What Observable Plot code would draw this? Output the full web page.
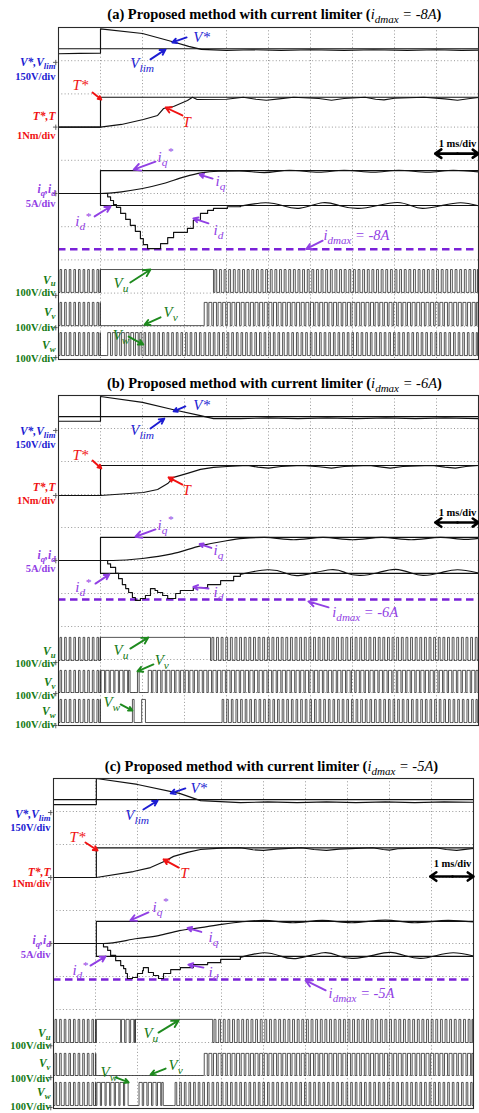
<!DOCTYPE html>
<html>
<head>
<meta charset="utf-8">
<script src="https://cdn.jsdelivr.net/npm/d3@7"></script>
<script src="https://cdn.jsdelivr.net/npm/@observablehq/plot@0.6"></script>
<style>
  html, body { margin: 0; padding: 0; background: #fff; }
  body { width: 479px; height: 1113px; position: relative; overflow: hidden; }
  .panel { position: absolute; left: 0; }
  .panel svg { overflow: visible; display: block; }
</style>
</head>
<body>
<div id="root"></div>
<script>
// ================= DATA (scope divisions: x = time in ms, 1 ms/div; y = 0..10 div) =================
const GRID = [1, 2, 3, 4, 5, 6, 7, 8, 9];
const PWM_PERIOD = 0.11; // ms, carrier period of the inverter switching

// ---------- Panel (a) : idmax = -8A ----------
const a_Vlim = [[0, 9.36], [10, 9.36]];
const a_Vstar = [[0, 9.21], [0.5, 9.22], [1.0, 9.23], [1.0, 9.96], [2.0, 9.82], [2.7, 9.58], [3.1, 9.43], [3.4, 9.34], [4.0, 9.31], [4.6, 9.33], [5.3, 9.31], [6.0, 9.33], [6.8, 9.31], [7.5, 9.33], [8.3, 9.31], [9.0, 9.33], [9.6, 9.31], [10, 9.32]];
const a_Tstar = [[0, 7.0], [1.0, 7.0], [1.0, 7.9], [10, 7.9]];
const a_T = [[0, 7.0], [1.0, 7.0], [1.5, 7.08], [2.02, 7.23], [2.36, 7.35], [2.5, 7.56], [2.74, 7.62], [3.07, 7.8], [3.19, 7.9], [3.3, 7.83], [4.0, 7.84], [4.4, 7.9], [4.7, 7.84], [4.95, 7.81], [5.25, 7.85], [5.6, 7.9], [6.2, 7.86], [6.5, 7.81], [6.8, 7.86], [7.3, 7.9], [7.55, 7.84], [7.75, 7.82], [8.0, 7.87], [8.7, 7.9], [9.2, 7.85], [9.5, 7.81], [9.8, 7.86], [10, 7.89]];
const a_IqStar = [[0, 5.0], [1.0, 5.0], [1.0, 5.69], [10, 5.69]];
const a_Iq = [[0, 5.0], [1.0, 5.0], [1.5, 5.05], [2.0, 5.15], [2.5, 5.3], [3.0, 5.5], [3.4, 5.62], [3.8, 5.67], [4.3, 5.68], [4.9, 5.63], [5.5, 5.7], [6.2, 5.64], [6.8, 5.7], [7.5, 5.64], [8.1, 5.7], [8.8, 5.64], [9.4, 5.7], [10, 5.65]];
const a_IdStar = [[0, 5.0], [1.0, 5.0], [1.0, 4.64], [10, 4.64]];
const a_IdStair = [[0, 5.0], [1.17, 4.9], [1.24, 4.79], [1.31, 4.67], [1.38, 4.58], [1.48, 4.4], [1.6, 4.22], [1.71, 4.04], [1.83, 3.86], [1.95, 3.64], [2.02, 3.46], [2.12, 3.34], [2.43, 3.49], [2.6, 3.67], [2.74, 3.83], [3.07, 3.95], [3.21, 4.19], [3.38, 4.4], [3.55, 4.49], [3.69, 4.55], [4.02, 4.6], [4.33, 4.62]];
const a_IdRipple = [[4.33, 4.62], [4.93, 4.72], [5.35, 4.63], [5.76, 4.56], [6.29, 4.72], [6.7, 4.63], [7.14, 4.55], [7.6, 4.64], [8.07, 4.73], [8.4, 4.63], [8.67, 4.55], [9.1, 4.63], [9.57, 4.72], [10, 4.63]];
const a_IdMax = [3.32];
const a_VuSeg = [[0, 1.0, "pwm", 0.35], [1.0, 3.69, "high"], [3.69, 10, "pwm", 0.4]];
const a_VvSeg = [[0, 1.0, "pwm", 0.35], [1.0, 3.45, "low"], [3.45, 10, "pwm", 0.65]];
const a_VwSeg = [[0, 1.0, "pwm", 0.35], [1.0, 1.15, "low"], [1.15, 2.0, "pwm", 0.6], [2.0, 10, "pwm", 0.35]];
const a_VuLev = [2.02, 2.71];
const a_VvLev = [1.02, 1.72];
const a_VwLev = [0.12, 0.81];
const a_Ground = [8.95, 7.0, 5.0, 1.93, 0.96, 0.06];

// ---------- Panel (b) : idmax = -6A ----------
const b_Vlim = [[0, 9.36], [10, 9.36]];
const b_Vstar = [[0, 9.22], [1.0, 9.22], [1.0, 9.97], [2.0, 9.79], [2.74, 9.57], [3.38, 9.39], [3.69, 9.3], [4.33, 9.3], [5.0, 9.32], [5.7, 9.3], [6.4, 9.32], [7.1, 9.3], [7.8, 9.32], [8.5, 9.3], [9.2, 9.32], [10, 9.3]];
const b_Tstar = [[0, 6.97], [1.0, 6.97], [1.0, 7.88], [10, 7.88]];
const b_T = [[0, 6.97], [1.0, 6.97], [2.02, 7.06], [2.36, 7.15], [2.6, 7.33], [2.74, 7.52], [3.07, 7.64], [3.38, 7.76], [3.69, 7.82], [4.02, 7.85], [4.5, 7.88], [4.75, 7.83], [5.0, 7.8], [5.3, 7.85], [5.8, 7.88], [6.2, 7.84], [6.5, 7.8], [6.8, 7.85], [7.4, 7.88], [7.7, 7.83], [7.9, 7.8], [8.2, 7.85], [8.9, 7.88], [9.2, 7.83], [9.45, 7.8], [9.7, 7.85], [10, 7.88]];
const b_IqStar = [[0, 5.0], [1.0, 5.0], [1.0, 5.7], [10, 5.7]];
const b_Iq = [[0, 5.0], [1.0, 5.0], [1.3, 5.0], [2.0, 5.06], [2.7, 5.2], [3.4, 5.45], [4.0, 5.6], [4.4, 5.67], [4.9, 5.7], [5.6, 5.63], [6.3, 5.7], [7.0, 5.63], [7.7, 5.7], [8.4, 5.63], [9.1, 5.7], [9.7, 5.64], [10, 5.67]];
const b_IdStar = [[0, 5.0], [1.0, 5.0], [1.0, 4.61], [10, 4.61]];
const b_IdStair = [[0, 5.0], [1.17, 4.9], [1.24, 4.79], [1.36, 4.61], [1.43, 4.45], [1.52, 4.27], [1.6, 4.15], [1.67, 4.03], [1.76, 3.88], [1.83, 3.79], [1.95, 3.85], [2.07, 3.94], [2.19, 4.15], [2.3, 4.09], [2.36, 4.03], [2.48, 3.94], [2.6, 3.85], [2.79, 4.0], [2.9, 4.09], [3.21, 4.18], [3.55, 4.27], [3.86, 4.39], [4.17, 4.52], [4.33, 4.58]];
const b_IdRipple = [[4.33, 4.58], [4.98, 4.72], [5.4, 4.62], [5.76, 4.55], [6.48, 4.72], [6.85, 4.62], [7.19, 4.55], [7.6, 4.63], [8.02, 4.73], [8.4, 4.62], [8.69, 4.55], [9.1, 4.63], [9.5, 4.72], [10, 4.62]];
const b_IdMax = [3.82];
const b_VuSeg = [[0, 1.0, "pwm", 0.35], [1.0, 3.62, "high"], [3.62, 10, "pwm", 0.4]];
const b_VvSeg = [[0, 1.0, "pwm", 0.35], [1.0, 1.71, "pwm", 0.75], [1.71, 1.88, "low"], [1.88, 1.92, "high"], [1.92, 2.12, "low"], [2.12, 10, "pwm", 0.7]];
const b_VwSeg = [[0, 1.0, "pwm", 0.35], [1.0, 1.76, "low"], [1.76, 1.8, "high"], [1.8, 1.98, "low"], [1.98, 2.07, "high"], [2.07, 3.86, "low"], [3.86, 10, "pwm", 0.35]];
const b_VuLev = [1.97, 2.67];
const b_VvLev = [1.0, 1.67];
const b_VwLev = [0.09, 0.79];
const b_Ground = [8.94, 6.97, 5.0, 1.91, 0.97, 0.0];

// ---------- Panel (c) : idmax = -5A ----------
const c_Vlim = [[0, 9.36], [10, 9.36]];
const c_Vstar = [[0, 9.21], [1.02, 9.21], [1.02, 10.0], [2.0, 9.82], [3.0, 9.55], [3.5, 9.33], [4.45, 9.27], [5.1, 9.29], [5.8, 9.27], [6.5, 9.29], [7.2, 9.27], [7.9, 9.29], [8.6, 9.27], [9.3, 9.29], [10, 9.28]];
const c_Tstar = [[0, 7.0], [1.02, 7.0], [1.02, 7.9], [10, 7.9]];
const c_T = [[0, 7.0], [1.02, 7.0], [1.9, 7.18], [2.31, 7.3], [2.62, 7.48], [2.86, 7.64], [3.19, 7.76], [3.5, 7.85], [3.98, 7.89], [4.45, 7.9], [4.75, 7.84], [5.0, 7.82], [5.3, 7.86], [5.9, 7.9], [6.2, 7.85], [6.5, 7.82], [6.8, 7.86], [7.6, 7.9], [7.85, 7.85], [8.0, 7.83], [8.2, 7.87], [9.1, 7.9], [9.35, 7.85], [9.6, 7.82], [9.85, 7.86], [10, 7.88]];
const c_IqStar = [[0, 5.0], [1.02, 5.0], [1.02, 5.67], [10, 5.67]];
const c_Iq = [[0, 5.0], [1.19, 5.0], [2.0, 5.15], [2.5, 5.24], [3.0, 5.39], [3.5, 5.48], [4.0, 5.58], [4.5, 5.66], [5.0, 5.7], [5.7, 5.63], [6.4, 5.7], [7.1, 5.63], [7.9, 5.71], [8.6, 5.63], [9.4, 5.7], [10, 5.65]];
const c_IdStar = [[0, 5.0], [1.02, 5.0], [1.02, 4.61], [10, 4.61]];
const c_IdStair = [[0, 5.0], [1.19, 4.9], [1.29, 4.79], [1.36, 4.64], [1.48, 4.48], [1.6, 4.33], [1.67, 4.24], [1.72, 4.09], [1.76, 3.94], [1.88, 3.97], [2.0, 4.09], [2.12, 4.18], [2.14, 4.27], [2.26, 4.12], [2.38, 4.03], [2.5, 3.94], [2.62, 4.09], [2.79, 4.21], [3.02, 4.27], [3.33, 4.36], [3.67, 4.42], [3.98, 4.52], [4.45, 4.58]];
const c_IdRipple = [[4.45, 4.58], [5.0, 4.72], [5.4, 4.62], [5.81, 4.55], [6.43, 4.72], [6.8, 4.62], [7.14, 4.55], [7.6, 4.64], [8.02, 4.73], [8.4, 4.62], [8.74, 4.55], [9.1, 4.63], [9.52, 4.72], [10, 4.62]];
const c_IdMax = [3.91];
const c_VuSeg = [[0, 1.02, "pwm", 0.35], [1.02, 1.6, "high"], [1.6, 1.95, "pwm", 0.7], [1.95, 3.79, "high"], [3.79, 10, "pwm", 0.4]];
const c_VvSeg = [[0, 1.02, "pwm", 0.35], [1.02, 3.57, "low"], [3.57, 10, "pwm", 0.65]];
const c_VwSeg = [[0, 1.02, "pwm", 0.35], [1.02, 1.79, "pwm", 0.75], [1.79, 2.02, "low"], [2.02, 2.62, "pwm", 0.7], [2.62, 2.86, "low"], [2.86, 10, "pwm", 0.35]];
const c_VuLev = [2.0, 2.7];
const c_VvLev = [1.0, 1.67];
const c_VwLev = [0.09, 0.79];
const c_Ground = [8.97, 7.0, 5.0, 1.9, 0.94, 0.03];

// ---------- Text ----------
const TITLES = [
  "(a) Proposed method with current limiter (~{i}!{dmax}~{ = -8A})",
  "(b) Proposed method with current limiter (~{i}!{dmax}~{ = -6A})",
  "(c) Proposed method with current limiter (~{i}!{dmax}~{ = -5A})"
];
const LEFT_LABELS = ["V*,V_{lim}", "150V/div", "T*,T", "1Nm/div", "i_{q},i_{d}", "5A/div", "V_{u}", "100V/div", "V_{v}", "100V/div", "V_{w}", "100V/div"];
const ANNOT_TEXT = ["V*", "V_{lim}", "T*", "T", "i_{q}^{*}", "i_{q}", "i_{d}^{*}", "i_{d}"];
const IDMAX_TEXT = ["i_{dmax} = -8A", "i_{dmax} = -6A", "i_{dmax} = -5A"];
const PHASE_TEXT = ["V_{u}", "V_{v}", "V_{w}"];
const SCALE_TEXT = "1 ms/div";

// ================= STYLE / LAYOUT =================
const FONT = '"Liberation Serif","Times New Roman",Times,serif';
const COL = { blue: "#1c1cd2", red: "#f01212", purple: "#9140e4", purpleLine: "#7a22d8", green: "#157a15", greenArrow: "#1e8a1e" };
const LEFT_COLORS = [COL.blue, COL.blue, COL.red, COL.red, COL.purple, COL.purple, COL.green, COL.green, COL.green, COL.green, COL.green, COL.green];
const ANNOT_COLORS = [COL.blue, COL.blue, COL.red, COL.red, COL.purple, COL.purple, COL.purple, COL.purple];

const LAYOUT = [
  { top: 0,   left: 58, mt: 27, fh: 332, mb: 4, titleX: 5.14, titleY: 10.39,
    leftY: [8.94, 8.52, 7.31, 6.74, 5.14, 4.71, 2.4, 2.0, 1.41, 0.97, 0.44, 0.03],
    ann: [[3.21, 9.70, "start", 3.05, 9.70, 2.71, 9.55], [1.71, 8.92, "start", 2.19, 9.04, 2.55, 9.34], [0.71, 8.25, "end", 0.81, 8.04, 1.02, 7.83], [2.95, 7.14, "start", 2.95, 7.35, 2.55, 7.59],
          [2.36, 6.1, "start", 2.31, 5.96, 1.79, 5.72], [3.74, 5.36, "start", 3.67, 5.45, 3.36, 5.57], [0.40, 4.16, "start", 0.86, 4.31, 1.24, 4.61], [3.69, 3.89, "start", 3.57, 4.10, 3.21, 4.25]],
    idm: [6.31, 3.73, 6.29, 3.58, 5.9, 3.33],
    ph: [[1.31, 2.29, 1.71, 2.32, 2.19, 2.71], [2.5, 1.42, 2.43, 1.27, 2.05, 1.05], [1.29, 0.72, 1.67, 0.69, 2.02, 0.45]],
    scaleY: 6.51, scaleArrowY: 6.2 },
  { top: 368, left: 58, mt: 27, fh: 330, mb: 4, titleX: 5.14, titleY: 10.36,
    leftY: [8.9, 8.5, 7.23, 6.8, 5.17, 4.75, 2.26, 1.89, 1.32, 0.92, 0.44, 0.03],
    ann: [[3.21, 9.70, "start", 3.02, 9.67, 2.74, 9.52], [1.71, 8.94, "start", 2.19, 9.0, 2.52, 9.3], [0.71, 8.18, "end", 0.81, 8.03, 1.02, 7.79], [2.95, 7.12, "start", 2.95, 7.3, 2.62, 7.52],
          [2.36, 6.08, "start", 2.31, 5.94, 1.83, 5.72], [3.69, 5.3, "start", 3.64, 5.38, 3.36, 5.5], [0.40, 4.18, "start", 0.88, 4.3, 1.21, 4.58], [3.69, 4.03, "start", 3.57, 4.15, 3.21, 4.2]],
    idm: [6.52, 3.42, 6.43, 3.58, 5.95, 3.76],
    ph: [[1.31, 2.27, 1.71, 2.33, 2.14, 2.67], [2.29, 1.97, 2.26, 1.85, 1.88, 1.64], [1.07, 0.7, 1.48, 0.64, 1.76, 0.45]],
    scaleY: 6.45, scaleArrowY: 6.15 },
  { top: 751, left: 53, mt: 27, fh: 330, mb: 4, titleX: 5.19, titleY: 10.36,
    leftY: [8.9, 8.5, 7.17, 6.8, 5.11, 4.65, 2.29, 1.92, 1.38, 0.92, 0.5, 0.05],
    ann: [[3.26, 9.70, "start", 3.14, 9.7, 2.79, 9.55], [1.71, 8.88, "start", 2.14, 9.06, 2.48, 9.33], [0.76, 8.21, "end", 0.76, 8.06, 1.05, 7.82], [3.02, 7.12, "start", 2.98, 7.3, 2.62, 7.55],
          [2.36, 6.11, "start", 2.26, 5.94, 1.83, 5.7], [3.69, 5.18, "start", 3.52, 5.35, 3.19, 5.47], [0.45, 4.18, "start", 0.88, 4.33, 1.24, 4.61], [3.69, 4.12, "start", 3.57, 4.27, 3.21, 4.36]],
    idm: [6.55, 3.48, 6.48, 3.58, 6.0, 3.88],
    ph: [[2.14, 2.27, 2.5, 2.3, 2.98, 2.67], [2.74, 1.3, 2.67, 1.21, 2.31, 1.03], [1.12, 1.09, 1.48, 0.94, 1.79, 0.79]],
    scaleY: 7.42, scaleArrowY: 7.03 }
];

const PANEL_DATA = [
  { Vlim: a_Vlim, Vstar: a_Vstar, Tstar: a_Tstar, T: a_T, IqStar: a_IqStar, Iq: a_Iq, IdStar: a_IdStar, IdStair: a_IdStair, IdRipple: a_IdRipple, IdMax: a_IdMax,
    VuSeg: a_VuSeg, VvSeg: a_VvSeg, VwSeg: a_VwSeg, VuLev: a_VuLev, VvLev: a_VvLev, VwLev: a_VwLev, Ground: a_Ground },
  { Vlim: b_Vlim, Vstar: b_Vstar, Tstar: b_Tstar, T: b_T, IqStar: b_IqStar, Iq: b_Iq, IdStar: b_IdStar, IdStair: b_IdStair, IdRipple: b_IdRipple, IdMax: b_IdMax,
    VuSeg: b_VuSeg, VvSeg: b_VvSeg, VwSeg: b_VwSeg, VuLev: b_VuLev, VvLev: b_VvLev, VwLev: b_VwLev, Ground: b_Ground },
  { Vlim: c_Vlim, Vstar: c_Vstar, Tstar: c_Tstar, T: c_T, IqStar: c_IqStar, Iq: c_Iq, IdStar: c_IdStar, IdStair: c_IdStair, IdRipple: c_IdRipple, IdMax: c_IdMax,
    VuSeg: c_VuSeg, VvSeg: c_VvSeg, VwSeg: c_VwSeg, VuLev: c_VuLev, VvLev: c_VvLev, VwLev: c_VwLev, Ground: c_Ground }
];

// ================= HELPERS =================
// expand switching segments (pwm with duty / constant high / constant low) into edges
function pwmPoints(segments, levels, period) {
  const [lo, hi] = levels;
  const pts = [];
  for (const [t0, t1, kind, duty] of segments) {
    if (kind === "high") { pts.push([t0, hi], [t1, hi]); }
    else if (kind === "low") { pts.push([t0, lo], [t1, lo]); }
    else {
      for (let t = t0; t < t1 - 1e-9; t += period) {
        const te = Math.min(t + period, t1);
        const w = duty * (te - t);
        const a = t + (te - t - w) / 2;
        pts.push([t, lo], [a, lo], [a, hi], [a + w, hi], [a + w, lo], [te, lo]);
      }
    }
  }
  return pts;
}

// rich text: _{sub} ^{sup} ~{italic normal} !{italic normal-weight sub}
function rich(svg) {
  const NS = "http://www.w3.org/2000/svg";
  for (const el of svg.querySelectorAll("text")) {
    const s = el.textContent;
    if (!/[_^~!]\{/.test(s)) continue;
    const g = el.closest("g[font-size]");
    const fs = g ? parseFloat(g.getAttribute("font-size")) : 12;
    el.textContent = "";
    el.style.whiteSpace = "pre";
    let off = 0;
    for (const part of s.split(/([_^~!]\{[^}]*\})/)) {
      if (!part) continue;
      let kind = "", txt = part;
      const m = part.match(/^([_^~!])\{([^}]*)\}$/);
      if (m) { kind = m[1]; txt = m[2]; }
      const ts = document.createElementNS(NS, "tspan");
      const target = (kind === "_" || kind === "!") ? 0.26 * fs : kind === "^" ? -0.42 * fs : 0;
      if (Math.abs(target - off) > 1e-6) ts.setAttribute("dy", (target - off).toFixed(2));
      off = target;
      if (kind === "_" || kind === "^" || kind === "!") { ts.setAttribute("font-size", (0.76 * fs).toFixed(2)); ts.setAttribute("font-style", "italic"); }
      if (kind === "!" || kind === "~") { ts.setAttribute("font-style", "italic"); ts.setAttribute("font-weight", "normal"); }
      ts.textContent = txt;
      el.appendChild(ts);
    }
  }
}

function drawPanel(i) {
  const L = LAYOUT[i], D = PANEL_DATA[i];
  const trace = (arr, opts = {}) => Plot.line(arr, { x: d => d[0], y: d => d[1], stroke: "#111", strokeWidth: 1.15, ...opts });
  const pulse = (seg, lev) => trace(pwmPoints(seg, lev, PWM_PERIOD), { stroke: "#2a2a2a", strokeWidth: 0.8 });
  const txt = (t, x, y, opts) => Plot.text([t], { x: () => x, y: () => y, text: d => d, fontFamily: FONT, ...opts });
  const arrow = (a, color) => Plot.arrow([a], { x1: d => d[0], y1: d => d[1], x2: d => d[2], y2: d => d[3], stroke: color, strokeWidth: 1.9, headLength: 6, headAngle: 55 });

  const marks = [
    Plot.ruleX(GRID, { x: d => d, stroke: "#8c8c8c", strokeWidth: 0.9, strokeDasharray: "1,2.3" }),
    Plot.ruleY(GRID, { y: d => d, stroke: "#8c8c8c", strokeWidth: 0.9, strokeDasharray: "1,2.3" }),
    // idmax limit
    Plot.ruleY(D.IdMax, { y: d => d, x1: () => 0, x2: () => 10, stroke: COL.purpleLine, strokeWidth: 2.6, strokeDasharray: "7.5,4.5" }),
    // traces
    trace(D.Vlim), trace(D.Vstar),
    trace(D.Tstar), trace(D.T),
    trace(D.IqStar), trace(D.Iq, { curve: "monotone-x" }),
    trace(D.IdStar), trace(D.IdStair, { curve: "step-after" }), trace(D.IdRipple, { curve: "natural" }),
    pulse(D.VuSeg, D.VuLev), pulse(D.VvSeg, D.VvLev), pulse(D.VwSeg, D.VwLev),
    Plot.frame({ stroke: "#2a2a2a", strokeWidth: 1.1 }),
    // ground markers
    Plot.ruleY(D.Ground, { y: d => d, x1: () => -0.12, x2: () => -0.01, stroke: "#555", strokeWidth: 0.9 }),
    Plot.ruleX(D.Ground, { x: () => -0.065, y1: d => d - 0.1, y2: d => d + 0.06, stroke: "#555", strokeWidth: 0.9 }),
    // title
    txt(TITLES[i], L.titleX, L.titleY, { fontSize: 14.5, fontWeight: "bold", fill: "#000" }),
    // time scale
    txt(SCALE_TEXT, 9.5, L.scaleY, { fontSize: 10.5, fontWeight: "bold", fill: "#000" }),
    Plot.arrow([[9.5, 8.97], [9.5, 10.0]], { x1: d => d[0], x2: d => d[1], y1: () => L.scaleArrowY, y2: () => L.scaleArrowY, stroke: "#000", strokeWidth: 2.6, headLength: 5, headAngle: 70 })
  ];
  // left channel labels
  LEFT_LABELS.forEach((t, k) => {
    const name = k % 2 === 0;
    marks.push(txt(t, 0, L.leftY[k], { dx: -3, textAnchor: "end", fill: LEFT_COLORS[k], fontSize: name ? 11.5 : 10.5, fontWeight: "bold", fontStyle: name ? "italic" : "normal" }));
  });
  // trace annotations
  ANNOT_TEXT.forEach((t, k) => {
    const a = L.ann[k];
    marks.push(arrow([a[3], a[4], a[5], a[6]], ANNOT_COLORS[k]));
    marks.push(txt(t, a[0], a[1], { textAnchor: a[2], fill: ANNOT_COLORS[k], fontSize: 15, fontStyle: "italic" }));
  });
  marks.push(arrow([L.idm[2], L.idm[3], L.idm[4], L.idm[5]], COL.purple));
  marks.push(txt(IDMAX_TEXT[i], L.idm[0], L.idm[1], { textAnchor: "start", fill: COL.purple, fontSize: 14.5, fontStyle: "italic" }));
  PHASE_TEXT.forEach((t, k) => {
    const a = L.ph[k];
    marks.push(arrow([a[2], a[3], a[4], a[5]], COL.greenArrow));
    marks.push(txt(t, a[0], a[1], { textAnchor: "start", fill: COL.green, fontSize: 15, fontStyle: "italic" }));
  });

  const svg = Plot.plot({
    width: 479,
    height: L.mt + L.fh + L.mb,
    marginLeft: L.left,
    marginRight: 479 - L.left - 420,
    marginTop: L.mt,
    marginBottom: L.mb,
    x: { domain: [0, 10], axis: null },
    y: { domain: [0, 10], axis: null },
    style: { background: "transparent", fontFamily: FONT, overflow: "visible" },
    marks
  });
  rich(svg);
  const div = document.createElement("div");
  div.className = "panel";
  div.style.top = L.top + "px";
  div.appendChild(svg);
  document.getElementById("root").appendChild(div);
}

[0, 1, 2].forEach(drawPanel);
</script>
</body>
</html>
